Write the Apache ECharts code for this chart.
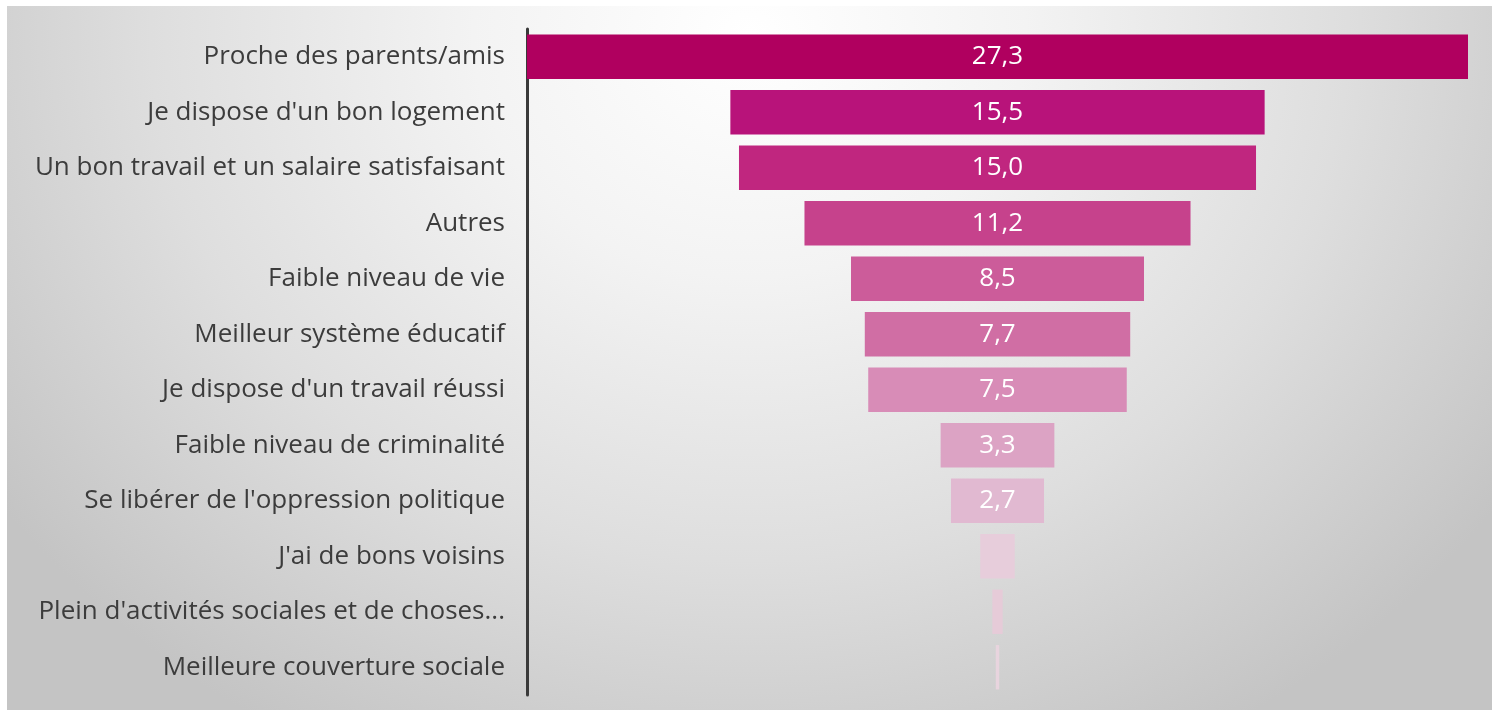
<!DOCTYPE html>
<html>
<head>
<meta charset="utf-8">
<script src="https://cdn.jsdelivr.net/npm/echarts@6/dist/echarts.min.js"></script>
<style>
  html, body { margin: 0; padding: 0; background: #ffffff; }
  #wrap { position: relative; width: 1498px; height: 713px; }
  #panel {
    position: absolute; left: 7px; top: 6px; width: 1485px; height: 704px;
    background: radial-gradient(ellipse 62% 115% at 50% 4%, #ffffff 0%, #f3f3f3 30%, #dedede 65%, #c4c4c4 100%);
  }
  #chart { position: absolute; left: 0; top: 0; width: 1498px; height: 713px; }
</style>
</head>
<body>
<div id="wrap">
  <div id="panel"></div>
  <div id="chart"></div>
</div>
<script>
// Reasons given (%), top to bottom
const categories = [
  "Proche des parents/amis",
  "Je dispose d'un bon logement",
  "Un bon travail et un salaire satisfaisant",
  "Autres",
  "Faible niveau de vie",
  "Meilleur système éducatif",
  "Je dispose d'un travail réussi",
  "Faible niveau de criminalité",
  "Se libérer de l'oppression politique",
  "J'ai de bons voisins",
  "Plein d'activités sociales et de choses...",
  "Meilleure couverture sociale"
];
const values = [27.3, 15.5, 15.0, 11.2, 8.5, 7.7, 7.5, 3.3, 2.7, 1.0, 0.3, 0.1];
const showLabel = [true, true, true, true, true, true, true, true, true, false, false, false];
const barColors = [
  "#b0005f", "#b8137a", "#c0267f", "#c6428c", "#cc5c9a", "#d06ea4",
  "#d88cb7", "#dca3c4", "#e1b9d1", "#e7cddb", "#e6cbd8", "#e8d4de"
];

const maxValue = Math.max(...values);
// invisible spacer so each bar sits centred on the widest one
const spacer = values.map(v => (maxValue - v) / 2);

const chart = echarts.init(document.getElementById('chart'), null, { renderer: 'canvas' });
chart.setOption({
  animation: false,
  backgroundColor: 'transparent',
  grid: { left: 527, right: 30, top: 29, bottom: 18 },
  xAxis: {
    type: 'value',
    min: 0,
    max: maxValue,
    show: false
  },
  yAxis: {
    type: 'category',
    inverse: true,
    data: categories,
    axisLine: { show: true, lineStyle: { color: '#3a3a3a', width: 3 } },
    axisTick: { show: false },
    axisLabel: {
      margin: 22,
      color: '#3c3c3c',
      fontSize: 26,
      fontFamily: 'Open Sans'
    }
  },
  series: [
    {
      type: 'bar',
      stack: 'funnel',
      data: spacer,
      itemStyle: { color: 'transparent' },
      barWidth: '80%',
      silent: true
    },
    {
      type: 'bar',
      stack: 'funnel',
      barWidth: '80%',
      data: values.map((v, i) => ({
        value: v,
        itemStyle: { color: barColors[i] },
        label: { show: showLabel[i] }
      })),
      label: {
        position: 'inside',
        color: '#ffffff',
        fontSize: 26,
        fontFamily: 'Open Sans',
        formatter: p => p.value.toFixed(1).replace('.', ',')
      }
    }
  ]
});
</script>
</body>
</html>
